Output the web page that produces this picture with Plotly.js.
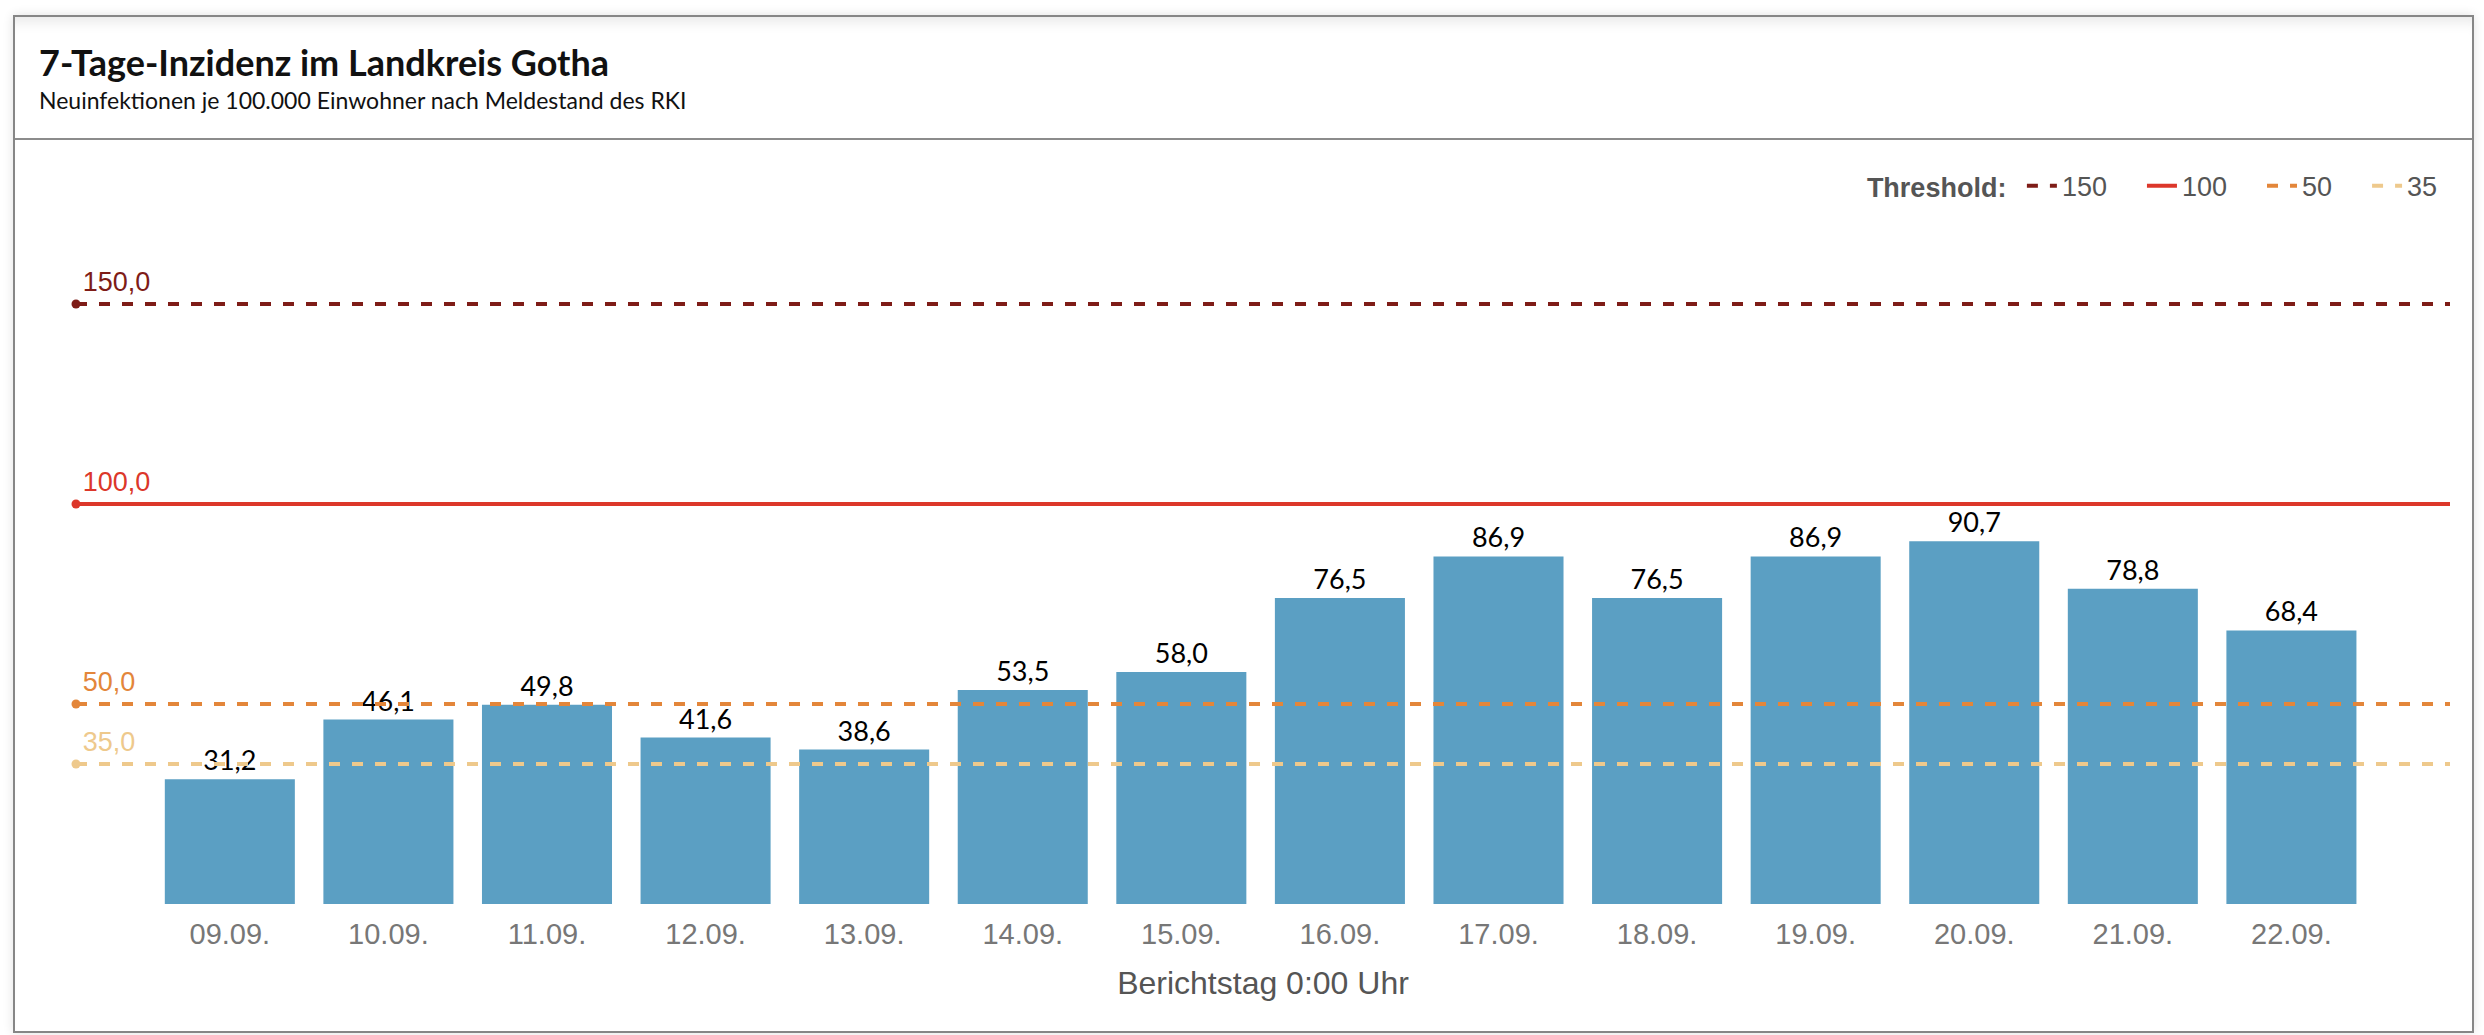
<!DOCTYPE html>
<html>
<head>
<meta charset="utf-8">
<script src="https://cdn.plot.ly/plotly-3.0.1.min.js"></script>
<style>
	html, body { margin: 0; padding: 0; background: #fff; width: 2484px; height: 1035px; overflow: hidden; }
	.frame {
		position: absolute; left: 13px; top: 15px; width: 2457px; height: 1014px;
		border: 2px solid #868686; background: #fff;
		box-shadow: 0 0 10px rgba(0,0,0,0.12), inset 0 14px 14px -10px rgba(0,0,0,0.10);
	}
	.head-title { position: absolute; left: 24px; top: 27px; font: 700 36px/36px Lato, sans-serif; color: #111; }
	.head-sub { position: absolute; left: 24px; top: 72px; font: 400 23px/23px Lato, sans-serif; color: #111; }
	.head-sep { position: absolute; left: 0; right: 0; top: 121px; height: 2px; background: #8c8c8c; }
	#chart { position: absolute; left: 0; top: 0; width: 2484px; height: 1035px; }
</style>
</head>
<body>
<div class="frame">
	<div class="head-title">7-Tage-Inzidenz im Landkreis Gotha</div>
	<div class="head-sub">Neuinfektionen je 100.000 Einwohner nach Meldestand des RKI</div>
	<div class="head-sep"></div>
</div>
<div id="chart"></div>
<script>
'use strict';

const dates = ['09.09.', '10.09.', '11.09.', '12.09.', '13.09.', '14.09.', '15.09.',
	'16.09.', '17.09.', '18.09.', '19.09.', '20.09.', '21.09.', '22.09.'];
const incidence = [31.2, 46.1, 49.8, 41.6, 38.6, 53.5, 58.0, 76.5, 86.9, 76.5, 86.9, 90.7, 78.8, 68.4];

const thresholds = [150, 100, 50, 35];
const thresholdColors = ['#7e1c17', '#dc372a', '#e3863a', '#eec98c'];
const thresholdDash = ['11px,12px', 'solid', '11px,12px', '11px,12px'];

const axisFont = 'Liberation Sans, Arial, sans-serif';
const legendPad = '\u00a0\u00a0\u00a0\u00a0'; // wider gaps between legend entries

const data = [{
	type: 'bar',
	x: dates,
	y: incidence,
	marker: { color: '#5b9fc3' },
	texttemplate: '%{y:.1f}',
	textposition: 'outside',
	textfont: { family: 'Lato, sans-serif', size: 27, color: '#000' },
	cliponaxis: false,
	showlegend: false,
	hoverinfo: 'skip'
}];

// threshold lines run across the whole plot on an overlaid 0..1 axis
thresholds.forEach(function(t, i) {
	data.push({
		type: 'scatter',
		mode: 'lines',
		xaxis: 'x2',
		x: [0, 1],
		y: [t, t],
		name: String(t) + (i < thresholds.length - 1 ? legendPad : ''),
		line: { color: thresholdColors[i], width: 4, dash: thresholdDash[i] },
		hoverinfo: 'skip'
	});
	data.push({
		type: 'scatter',
		mode: 'markers+text',
		xaxis: 'x2',
		x: [0],
		y: [t],
		texttemplate: '%{y:.1f}',
		textposition: 'top right',
		textfont: { family: axisFont, size: 27, color: thresholdColors[i] },
		marker: { color: thresholdColors[i], size: 9 },
		cliponaxis: false,
		showlegend: false,
		hoverinfo: 'skip'
	});
});

const layout = {
	width: 2484,
	height: 1035,
	separators: ',.',
	paper_bgcolor: 'rgba(0,0,0,0)',
	plot_bgcolor: 'rgba(0,0,0,0)',
	margin: { l: 76, r: 34, t: 150, b: 131 },
	bargap: 0.18,
	xaxis: {
		type: 'category',
		range: [-0.97, 14.0],
		showgrid: false,
		zeroline: false,
		showline: false,
		ticks: '',
		ticklabelstandoff: 10,
		tickfont: { family: axisFont, size: 29, color: '#777' },
		title: { text: 'Berichtstag 0:00 Uhr', font: { family: axisFont, size: 32, color: '#555' }, standoff: 22 }
	},
	xaxis2: {
		overlaying: 'x',
		range: [0, 1],
		visible: false
	},
	yaxis: {
		range: [0, 188.5],
		visible: false,
		showgrid: false,
		zeroline: false
	},
	legend: {
		orientation: 'h',
		x: 0.997,
		xanchor: 'right',
		y: 0.952,
		yanchor: 'middle',
		font: { family: axisFont, size: 27, color: '#555' },
		title: { text: '<b>Threshold:</b>\u00a0', side: 'left', font: { family: axisFont, size: 27, color: '#555' } },
		bgcolor: 'rgba(0,0,0,0)'
	},
	showlegend: true
};

Plotly.newPlot('chart', data, layout, { displayModeBar: false, staticPlot: true });
</script>
</body>
</html>
